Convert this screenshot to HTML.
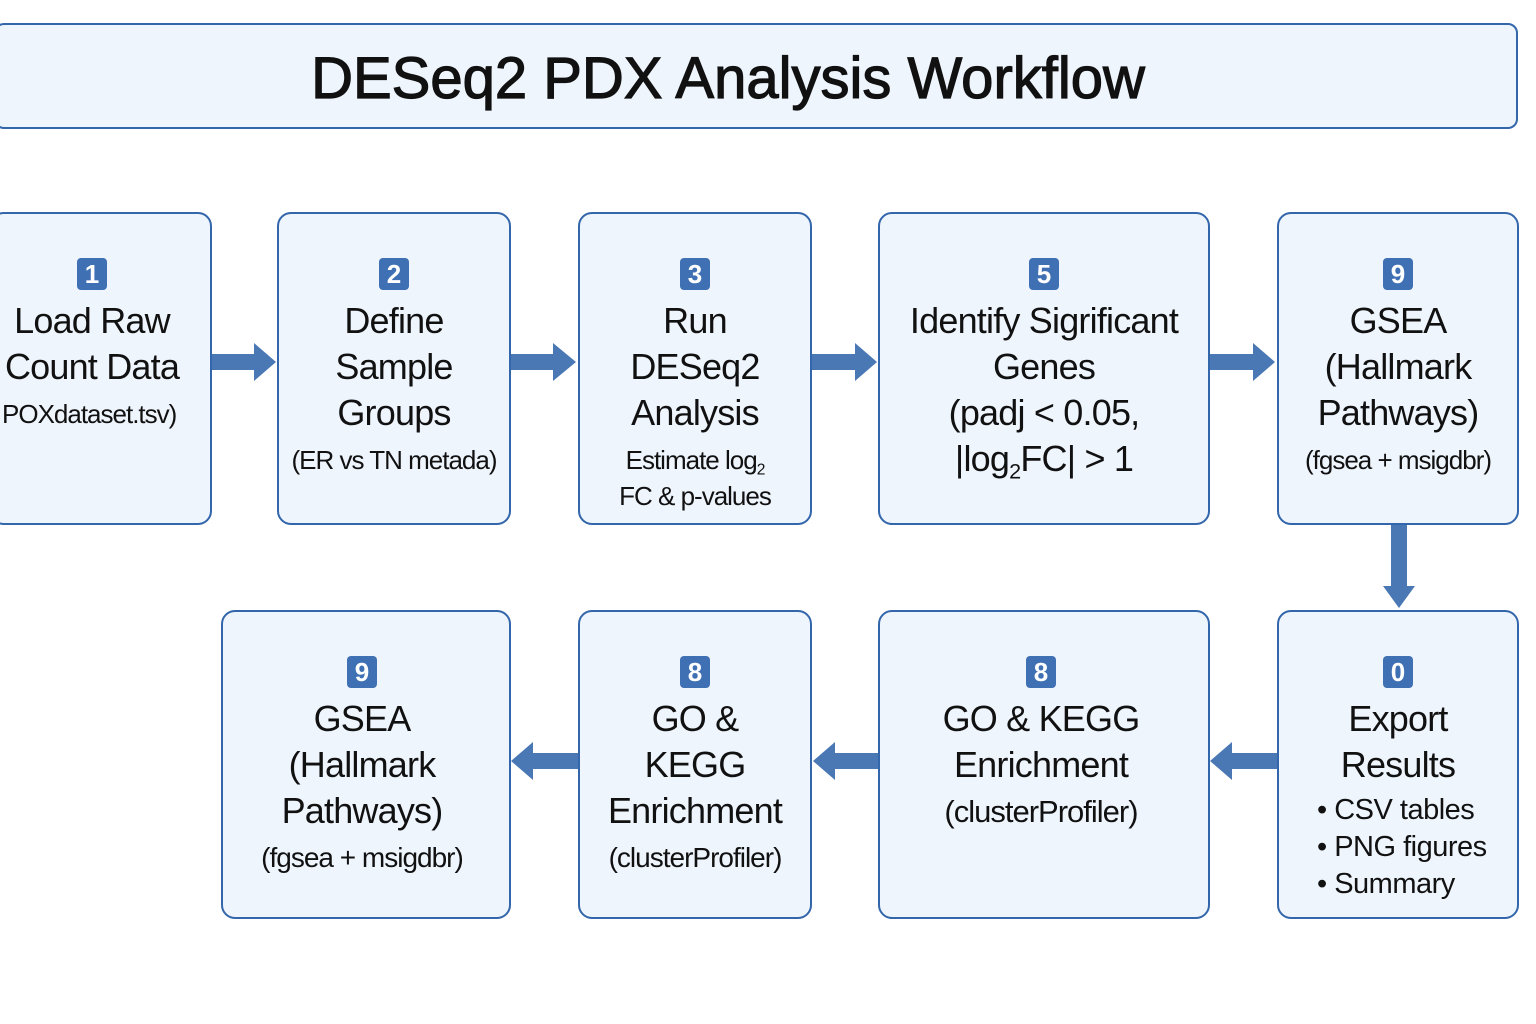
<!DOCTYPE html>
<html><head><meta charset="utf-8"><style>
body{margin:0;width:1536px;height:1024px;background:#fff;position:relative;overflow:hidden;font-family:"Liberation Sans",sans-serif;color:#111}
.box{position:absolute;box-sizing:border-box;border:2px solid #3366aa;border-radius:14px;background:#eff5fd;text-align:center;padding-top:44px}
.title{position:absolute;left:-6px;top:23px;width:1524px;height:106px;box-sizing:border-box;border:2px solid #3366aa;border-radius:10px;background:#eff5fd;text-align:center;line-height:108px;font-size:58px;font-weight:normal;-webkit-text-stroke:1.2px #111;letter-spacing:0px;color:#111;padding-right:56px}
.b{display:inline-block;width:30px;height:32px;line-height:32px;background:#3f70b3;border-radius:4px;color:#fff;font-weight:bold;font-size:26px}
.m{margin-top:8px;font-size:36px;line-height:46px;letter-spacing:-0.8px;white-space:nowrap}
.s{margin-top:6px;font-size:26px;line-height:36px;letter-spacing:-1px;white-space:nowrap}
.l{font-size:29px;line-height:37px;text-align:left;padding-left:38px;white-space:nowrap;letter-spacing:-0.5px;margin-top:4px}
sub{font-size:60%;vertical-align:-0.35em;line-height:0}
svg{position:absolute;left:0;top:0}
</style></head><body>
<div class="title">DESeq2 PDX Analysis Workflow</div>

<div class="box" style="left:-10px;top:212px;width:222px;height:313px"><span class="b" style="margin-right:18px">1</span><div class="m" style="padding-right:18px">Load Raw<br>Count Data</div><div class="s" style="text-align:left;padding-left:10px">POXdataset.tsv)</div></div>
<div class="box" style="left:277px;top:212px;width:234px;height:313px"><span class="b">2</span><div class="m">Define<br>Sample<br>Groups</div><div class="s">(ER vs TN metada)</div></div>
<div class="box" style="left:578px;top:212px;width:234px;height:313px"><span class="b">3</span><div class="m">Run<br>DESeq2<br>Analysis</div><div class="s">Estimate log<sub>2</sub><br>FC &amp; p-values</div></div>
<div class="box" style="left:878px;top:212px;width:332px;height:313px"><span class="b">5</span><div class="m">Identify Sigrificant<br>Genes<br>(padj &lt; 0.05,<br>|log<sub>2</sub>FC| &gt; 1</div></div>
<div class="box" style="left:1277px;top:212px;width:242px;height:313px"><span class="b">9</span><div class="m">GSEA<br>(Hallmark<br>Pathways)</div><div class="s">(fgsea + msigdbr)</div></div>

<div class="box" style="left:221px;top:610px;width:290px;height:309px;padding-right:8px"><span class="b">9</span><div class="m">GSEA<br>(Hallmark<br>Pathways)</div><div class="s" style="font-size:28px">(fgsea + msigdbr)</div></div>
<div class="box" style="left:578px;top:610px;width:234px;height:309px"><span class="b">8</span><div class="m">GO &amp;<br>KEGG<br>Enrichment</div><div class="s" style="font-size:28px">(clusterProfiler)</div></div>
<div class="box" style="left:878px;top:610px;width:332px;height:309px;padding-right:6px"><span class="b">8</span><div class="m">GO &amp; KEGG<br>Enrichment</div><div class="s" style="font-size:31px">(clusterProfiler)</div></div>
<div class="box" style="left:1277px;top:610px;width:242px;height:309px"><span class="b">0</span><div class="m">Export<br>Results</div><div class="l">•&nbsp;CSV tables<br>•&nbsp;PNG figures<br>•&nbsp;Summary</div></div>

<svg width="1536" height="1024" fill="#4a78b5">
<polygon points="212,354 254,354 254,343 276,362 254,381 254,370 212,370"/>
<polygon points="511,354 553,354 553,343 576,362 553,381 553,370 511,370"/>
<polygon points="812,354 855,354 855,343 877,362 855,381 855,370 812,370"/>
<polygon points="1210,354 1253,354 1253,343 1275,362 1253,381 1253,370 1210,370"/>
<polygon points="1391,525 1407,525 1407,586 1415,586 1399,608 1383,586 1391,586"/>
<polygon points="1277,753 1232,753 1232,742 1210,761 1232,780 1232,769 1277,769"/>
<polygon points="878,753 835,753 835,742 813,761 835,780 835,769 878,769"/>
<polygon points="578,753 533,753 533,742 511,761 533,780 533,769 578,769"/>
</svg>
</body></html>
